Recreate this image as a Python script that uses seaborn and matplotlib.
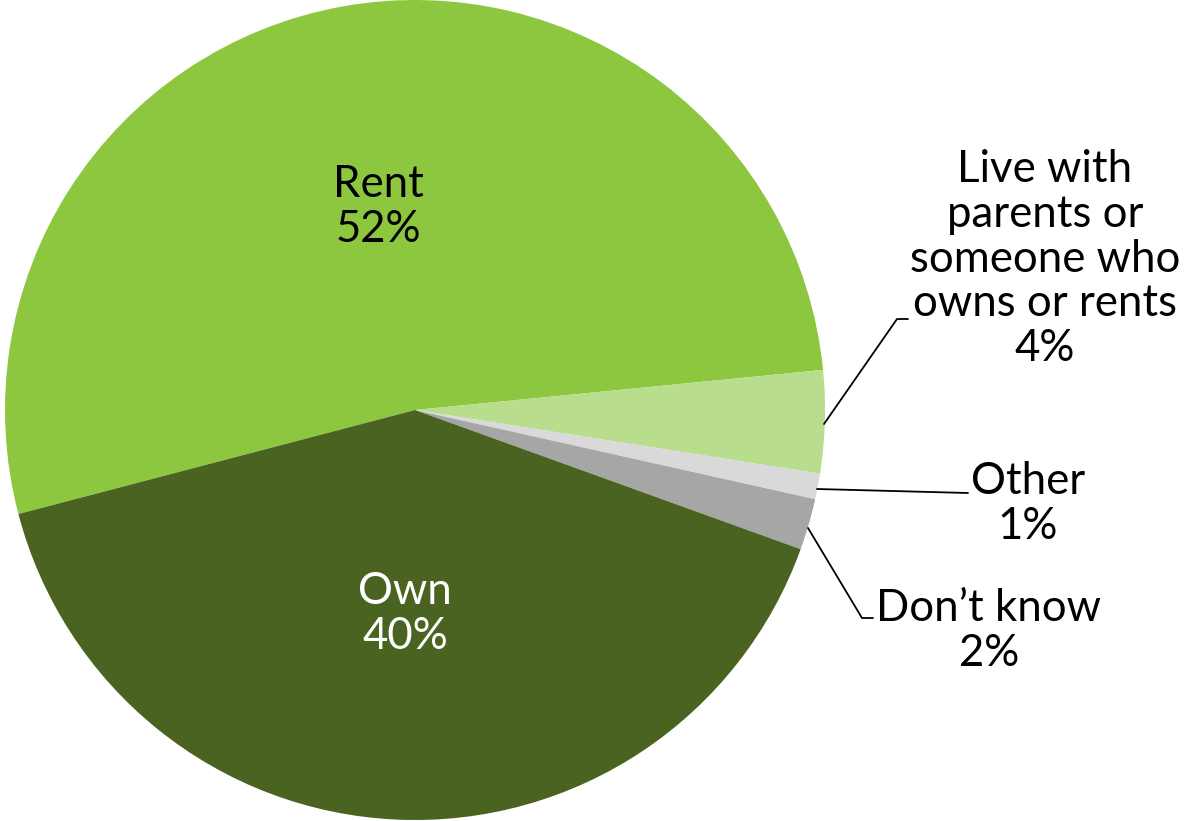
import matplotlib
matplotlib.use("Agg")
import matplotlib.pyplot as plt
import seaborn as sns

categories = ["Rent", "Live with\nparents or\nsomeone who\nowns or rents", "Other", "Don\u2019t know", "Own"]
values = [52, 4, 1, 2, 40]
pct_labels = ["52%", "4%", "1%", "2%", "40%"]

sns.set_theme(style="white")
plt.rcParams['font.family'] = ['Lato', 'DejaVu Sans']

colors = ["#8DC63F", "#B8DD8C", "#D9D9D9", "#A6A6A6", "#4A6320"]

W, H = 1184, 821
cx, cy, R = 415, 410, 410
fig = plt.figure(figsize=(W / 100, H / 100), dpi=100)
ax = fig.add_axes([(cx - R) / W, (H - cy - R) / H, 2 * R / W, 2 * R / H])
ax.pie(values, colors=colors, startangle=194.7, counterclock=False, radius=1,
       wedgeprops=dict(linewidth=0))
ax.set_xlim(-1, 1)
ax.set_ylim(-1, 1)
ax.set_aspect("equal")
ax.axis("off")


def P(x, y):
    return ((x - cx) / R, (cy - y) / R)


fs = 31.5
ls = 1.12
ax.text(*P(378, 207), f"{categories[0]}\n{pct_labels[0]}", ha="center", va="center",
        fontsize=fs, color="black", linespacing=ls)
ax.text(*P(405, 614), f"{categories[4]}\n{pct_labels[4]}", ha="center", va="center",
        fontsize=fs, color="white", linespacing=ls)
ax.text(*P(1045, 259), f"{categories[1]}\n{pct_labels[1]}", ha="center", va="center",
        fontsize=fs, color="black", linespacing=ls, clip_on=False)
ax.text(*P(1028, 504), f"{categories[2]}\n{pct_labels[2]}", ha="center", va="center",
        fontsize=fs, color="black", linespacing=ls, clip_on=False)
ax.text(*P(989, 631), f"{categories[3]}\n{pct_labels[3]}", ha="center", va="center",
        fontsize=fs, color="black", linespacing=ls, clip_on=False)

leaders = [
    [(824, 424), (897, 319), (908, 319)],
    [(817, 489), (968, 493)],
    [(808, 528), (862, 618), (873, 618)],
]
for pts in leaders:
    xs, ys = zip(*[P(x, y) for x, y in pts])
    ax.plot(xs, ys, color="black", linewidth=1.3, clip_on=False)

fig.savefig("out.png", dpi=100)
